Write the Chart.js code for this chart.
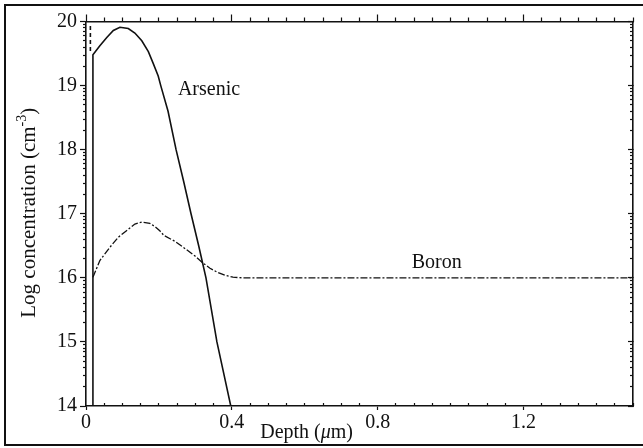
<!DOCTYPE html>
<html><head><meta charset="utf-8">
<script src="https://cdn.jsdelivr.net/npm/chart.js@4"></script>
<style>
html,body{margin:0;padding:0;background:#fff;overflow:hidden;}
#wrap{position:relative;width:643px;height:448px;}
#frame{position:absolute;left:4px;top:4px;width:700px;height:442px;box-sizing:border-box;border:2px solid #111;}
canvas{position:absolute;left:0;top:0;}
</style></head><body>
<div id="wrap"><div id="frame"></div><canvas id="c" width="643" height="448"></canvas></div>
<script>
// ---- data ----
const arsenicDepth = [0.019, 0.019, 0.038, 0.057, 0.075, 0.093, 0.116, 0.134, 0.153, 0.171, 0.184, 0.198, 0.205, 0.225, 0.247, 0.268, 0.288, 0.309, 0.329, 0.359, 0.397];
const arsenicLog   = [14.0, 19.48, 19.62, 19.75, 19.86, 19.91, 19.89, 19.82, 19.70, 19.53, 19.35, 19.15, 19.0, 18.6, 18.0, 17.5, 17.0, 16.5, 16.0, 15.0, 14.0];
const arsenicSurfaceDepth = [0.012, 0.012];
const arsenicSurfaceLog   = [19.93, 19.5];
const boronDepth = [0.019, 0.038, 0.066, 0.088, 0.112, 0.134, 0.153, 0.175, 0.189, 0.203, 0.214, 0.244, 0.266, 0.299, 0.321, 0.340, 0.359, 0.381, 0.403, 0.430, 1.5];
const boronLog   = [16.01, 16.27, 16.48, 16.63, 16.74, 16.84, 16.87, 16.85, 16.80, 16.73, 16.66, 16.57, 16.48, 16.34, 16.23, 16.15, 16.09, 16.04, 16.01, 16.0, 16.0];

const xMajorTicks = [0, 0.4, 0.8, 1.2];
const xTickLabels = ['0', '0.4', '0.8', '1.2'];
const yMajorTicks = [14, 15, 16, 17, 18, 19, 20];
const yTickLabels = ['14', '15', '16', '17', '18', '19', '20'];
const curveLabels = ['Arsenic', 'Boron'];
const curveLabelDepth = [0.252, 0.893];
const curveLabelLog = [18.93, 16.24];
const xTitle = ['Depth (', 'μ', 'm)'];
const yTitle = ['Log concentration (cm', '-3', ')'];
const xMin = 0, xMax = 1.5, yMin = 14, yMax = 20;

// minor tick values derived from the axis ranges
const xMinorTicks = [];
for (let i = 0; i <= 30; i++) { const v = +(i * 0.05).toFixed(2); if (!xMajorTicks.includes(v)) xMinorTicks.push(v); }
const yMinorTicks = [];
for (let d = yMin; d < yMax; d++) for (let k = 2; k <= 9; k++) yMinorTicks.push(d + Math.log10(k));

const INK = '#111';
const SERIF = '"Liberation Serif", "Times New Roman", serif';
const FS = 20;
const YFS = 21;

const fixedTicks = values => scale => { scale.ticks = values.map(v => ({ value: v })); };
const pts = (xs, ys) => xs.map((x, i) => ({ x, y: ys[i] }));

function axis(pos, min, max, weight, values, size, tickLen, border, labels) {
  const horiz = pos === 'top' || pos === 'bottom';
  return {
    type: 'linear', position: pos, min, max, weight,
    afterBuildTicks: fixedTicks(values),
    afterFit: s => { if (horiz) s.height = size; else s.width = size; },
    grid: { drawOnChartArea: false, tickLength: tickLen, tickWidth: 1.2, tickColor: INK },
    border: { display: border, color: INK, width: 1.6 },
    ticks: labels ? {
      autoSkip: false, maxRotation: 0, padding: horiz ? 1 : 3, color: INK,
      font: { family: SERIF, size: FS }, callback: (v, i) => labels[i]
    } : { display: false }
  };
}

const textPlugin = {
  id: 'texts',
  afterDraw(chart) {
    const { ctx, chartArea, scales } = chart;
    ctx.save();
    ctx.fillStyle = INK;
    ctx.font = FS + 'px ' + SERIF;
    ctx.textBaseline = 'middle';
    ctx.textAlign = 'left';
    curveLabels.forEach((t, i) => {
      ctx.fillText(t, scales.x.getPixelForValue(curveLabelDepth[i]), scales.y.getPixelForValue(curveLabelLog[i]));
    });
    // x title
    ctx.textBaseline = 'alphabetic';
    const f0 = FS + 'px ' + SERIF, fi = 'italic ' + FS + 'px ' + SERIF;
    ctx.font = f0; const w0 = ctx.measureText(xTitle[0]).width; const w2 = ctx.measureText(xTitle[2]).width;
    ctx.font = fi; const w1 = ctx.measureText(xTitle[1]).width;
    let x = scales.x.getPixelForValue(0.605) - (w0 + w1 + w2) / 2;
    const yb = chart.height - 10;
    ctx.font = f0; ctx.fillText(xTitle[0], x, yb); x += w0;
    ctx.font = fi; ctx.fillText(xTitle[1], x, yb); x += w1;
    ctx.font = f0; ctx.fillText(xTitle[2], x, yb);
    // y title (rotated)
    ctx.translate(35, (chartArea.top + chartArea.bottom) / 2 - 1);
    ctx.rotate(-Math.PI / 2);
    const fy = YFS + 'px ' + SERIF;
    const fs = Math.round(YFS * 0.66) + 'px ' + SERIF;
    ctx.font = fy; const a = ctx.measureText(yTitle[0]).width, c = ctx.measureText(yTitle[2]).width;
    ctx.font = fs; const b = ctx.measureText(yTitle[1]).width;
    let t = -(a + b + c) / 2;
    ctx.font = fy; ctx.fillText(yTitle[0], t, 0); t += a;
    ctx.font = fs; ctx.fillText(yTitle[1], t, -YFS * 0.42); t += b;
    ctx.font = fy; ctx.fillText(yTitle[2], t, 0);
    ctx.restore();
  }
};

new Chart(document.getElementById('c'), {
  type: 'line',
  data: {
    datasets: [
      { label: 'Arsenic', data: pts(arsenicDepth, arsenicLog), borderColor: INK, borderWidth: 1.6, pointRadius: 0, tension: 0 },
      { label: 'Arsenic surface', data: pts(arsenicSurfaceDepth, arsenicSurfaceLog), borderColor: INK, borderWidth: 1.6, borderDash: [4, 3], pointRadius: 0 },
      { label: 'Boron', data: pts(boronDepth, boronLog), borderColor: INK, borderWidth: 1.3, borderDash: [7, 2, 2, 2], pointRadius: 0, tension: 0 }
    ]
  },
  options: {
    responsive: false, animation: false, devicePixelRatio: 1,
    layout: { padding: 0 },
    plugins: { legend: { display: false }, tooltip: { enabled: false } },
    scales: {
      x: axis('bottom', xMin, xMax, 1, xMajorTicks, 42, 4, true, xTickLabels),
      xMinorB: axis('bottom', xMin, xMax, 0, xMinorTicks, 0, -3, false, null),
      xTop: axis('top', xMin, xMax, 1, xMajorTicks, 21.5, 7, true, null),
      xTopMinor: axis('top', xMin, xMax, 0, xMinorTicks, 0, 4, false, null),
      y: axis('left', yMin, yMax, 1, yMajorTicks, 86, 6, true, yTickLabels),
      yMinorL: axis('left', yMin, yMax, 0, yMinorTicks, 0, 3, false, null),
      yRight: axis('right', yMin, yMax, 1, yMajorTicks, 10, -5, true, null),
      yMinorR: axis('right', yMin, yMax, 0, yMinorTicks, 0, -3, false, null)
    }
  },
  plugins: [textPlugin]
});
</script>
</body></html>
